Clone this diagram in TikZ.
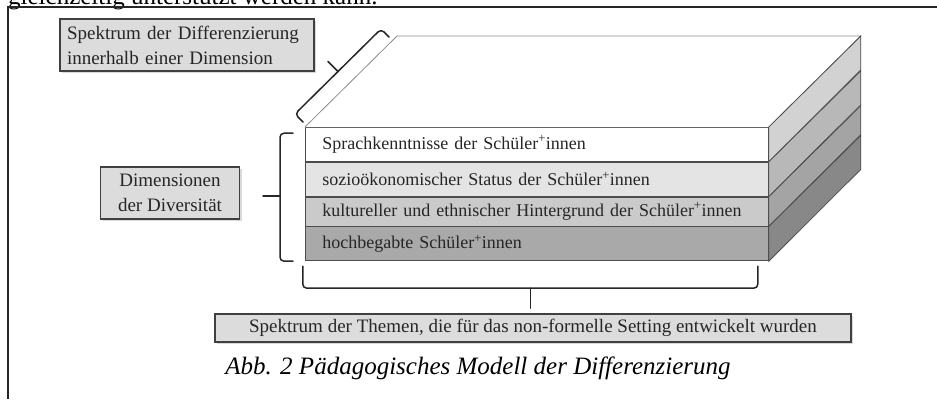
\documentclass[tikz,border=0pt]{standalone}
\usepackage{fontspec}
\setmainfont{Liberation Serif}
\usepackage{xcolor}
\usetikzlibrary{positioning,shadows,calc}
\definecolor{boxgray}{HTML}{DCDCDC}
\definecolor{front1}{HTML}{FFFFFF}
\definecolor{front2}{HTML}{E4E4E4}
\definecolor{front3}{HTML}{CACACA}
\definecolor{front4}{HTML}{A9A9A9}
\definecolor{side1}{HTML}{D2D2D2}
\definecolor{side2}{HTML}{B8B8B8}
\definecolor{side3}{HTML}{A4A4A4}
\definecolor{side4}{HTML}{888888}
\tikzset{
    infobox/.style={rectangle, draw=black!75, line width=1.2pt, fill=boxgray, inner sep=0pt, text=black!85, drop shadow={shadow xshift=2pt, shadow yshift=-2pt, opacity=0.3}, font=\fontsize{19}{25}\selectfont},
    layer/.style={rectangle, draw=black!70, line width=0.8pt, anchor=north west, minimum width=463pt, text width=429pt, inner xsep=17pt, inner ysep=0pt, align=left, text=black!85, font=\fontsize{18}{22}\selectfont},
    side/.style={draw=black!70, line width=0.8pt},
    bracket/.style={draw=black!85, line width=1.5pt, rounded corners=4pt, line cap=round}
}

\begin{document}
\begin{tikzpicture}[x=1pt, y=-1pt]
    \useasboundingbox (0,0) rectangle (937,399);
    % page text and frame
    \node [anchor=base west, inner sep=0pt, font=\fontsize{25}{30}\selectfont] (pagetext) at (8,4) {gleichzeitig unterstützt werden kann.};
    \draw [line width=1.3pt, black!85] (8,399) -- (8,7) -- (937,7);

    % Dimension layers (front)
    \node [layer, fill=front1, minimum height=34pt] (sprache) at (305,127) {Sprachkenntnisse der Schüler\textsuperscript{+}innen};
    \node [layer, fill=front2, minimum height=34pt] (status) at (sprache.south west) {sozioökonomischer Status der Schüler\textsuperscript{+}innen};
    \node [layer, fill=front3, minimum height=29pt] (kultur) at (status.south west) {kultureller und ethnischer Hintergrund der Schüler\textsuperscript{+}innen};
    \node [layer, fill=front4, minimum height=34pt] (begabt) at (kultur.south west) {hochbegabte Schüler\textsuperscript{+}innen};

    % top face
    \coordinate (backleft) at ($(sprache.north west)+(92,-91)$);
    \coordinate (backright) at ($(sprache.north east)+(92,-91)$);
    \draw [fill=white, draw=black!45, line width=0.8pt] (sprache.north west) -- (backleft) -- (backright) -- (sprache.north east);

    % side faces
    \filldraw [side, fill=side1] (sprache.north east) -- ++(92,-91) -- ++(0,34) -- (sprache.south east) -- cycle;
    \filldraw [side, fill=side2] (status.north east) -- ++(92,-91) -- ++(0,34) -- (status.south east) -- cycle;
    \filldraw [side, fill=side3] (kultur.north east) -- ++(92,-91) -- ++(0,29) -- (kultur.south east) -- cycle;
    \filldraw [side, fill=side4] (begabt.north east) -- ++(92,-91) -- ++(0,34) -- (begabt.south east) -- cycle;

    % Labels
    \node [infobox, minimum width=254pt, minimum height=52pt, text width=240pt, align=left] (spektrum) at (187,45) {Spektrum der Differenzierung\\innerhalb einer Dimension};
    \node [infobox, minimum width=139pt, minimum height=52pt, align=center] (dimensionen) at (170,193) {Dimensionen\\der Diversität};
    \node [infobox, minimum width=636pt, minimum height=28pt, align=center] (themen) at (533,328) {Spektrum der Themen, die für das non-formelle Setting entwickelt wurden};

    % Braces
    \draw [bracket] ([shift={(-2,-5)}]sprache.north west) coordinate (slantstart) -- ++(-8,-8) -- ++(86,-85) -- ++(8,8);
    \draw [bracket] ($(slantstart)+(35,-50.5)$) -- ++(-10,-10);
    \draw [bracket] ([shift={(-12,0)}]begabt.south west) -- ++(-13,0) -- ++(0,-128) -- ++(13,0);
    \draw [bracket] ([shift={(-25,-65)}]begabt.south west) -- ++(-17,0);
    \draw [bracket] ([shift={(-11,5)}]begabt.south east) -- ++(0,22) -- ++(-455,0) -- ++(0,-22);
    \draw [bracket] ([shift={(-238.5,27)}]begabt.south east) -- ++(0,20);

    % Caption
    \node [font=\fontsize{25}{30}\selectfont\itshape] (caption) at (478,368) {Abb. 2 Pädagogisches Modell der Differenzierung};
\end{tikzpicture}
\end{document}
